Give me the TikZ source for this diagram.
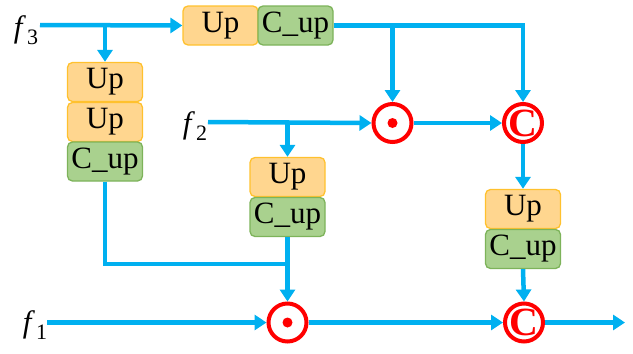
\documentclass[tikz,border=0pt]{standalone}
\usepackage{fontspec}
\setmainfont{Liberation Serif}
\usetikzlibrary{arrows.meta}

\definecolor{flowblue}{HTML}{00B0F0}
\definecolor{upfill}{HTML}{FFD68F}
\definecolor{upedge}{HTML}{FFC12E}
\definecolor{cupfill}{HTML}{A9D18E}
\definecolor{cupedge}{HTML}{7DB35A}
\definecolor{opred}{HTML}{FF0000}

\tikzset{
  box/.style={draw, line width=1.3pt, rounded corners=5pt, minimum width=75pt,
    minimum height=39pt, inner sep=0pt, font=\fontsize{31}{31}\selectfont},
  upbox/.style={box, fill=upfill, draw=upedge},
  cupbox/.style={box, fill=cupfill, draw=cupedge},
  opcirc/.style={circle, draw=opred, line width=4pt, minimum size=38pt, inner sep=0pt},
  flow/.style={draw=flowblue, line width=4.5pt},
  arrflow/.style={flow, -{Triangle[width=15pt,length=12pt]}},
  flabel/.style={inner sep=0pt, font=\fontsize{31}{31}\selectfont},
  ctext/.style={text=opred, font=\fontsize{40}{40}\selectfont\bfseries},
}
\newcommand{\flab}[1]{\textit{f}\kern1pt\raisebox{-7pt}{\fontsize{22}{22}\selectfont #1}}

\begin{document}
\begin{tikzpicture}[x=1pt, y=-1pt]
  \useasboundingbox (0,0) rectangle (633,354);

  % input labels
  \node[flabel] (f3) at (26,30) {\flab{3}};
  \node[flabel] (f2) at (195,126) {\flab{2}};
  \node[flabel] (f1) at (35,325) {\flab{1}};
  \coordinate (s3) at (40,25);
  \coordinate (s2) at (208,122);
  \coordinate (s1) at (47,322.5);
  \coordinate (out) at (625,322.5);

  % top branch
  \node[upbox]  (upT)  at (220.5,25.5) {Up};
  \node[cupbox] (cupT) at (295.5,25.5) {C\_up};

  % left stack
  \node[upbox]  (upL1) at (105,82) {Up};
  \node[upbox]  (upL2) at (105,122) {Up};
  \node[cupbox] (cupL) at (105,161.5) {C\_up};

  % middle stack
  \node[upbox]  (upM)  at (287.5,177) {Up};
  \node[cupbox] (cupM) at (287.5,217) {C\_up};

  % right stack
  \node[upbox]  (upR)  at (523,209) {Up};
  \node[cupbox] (cupR) at (523,249) {C\_up};

  % fusion operators
  \node[opcirc] (mulU) at (392.5,123) {};
  \fill[opred] (mulU.center) circle (5pt);
  \node[opcirc] (catU) at (523,123) {};
  \node[ctext] at (catU.center) {C};

  \node[opcirc] (mulD) at (287.5,322.5) {};
  \fill[opred] (mulD.center) circle (5pt);
  \node[opcirc] (catD) at (524,322.5) {};
  \node[ctext] at (catD.center) {C};

  % connectors
  \draw[arrflow] (s3) -- (upT.west);
  \draw[arrflow] (upL1.north |- s3) -- (upL1.north);
  \draw[arrflow] (cupT.east) -| (catU.north);
  \draw[arrflow] (cupT.east -| mulU.north) -- (mulU.north);

  \draw[arrflow] (s2) -- (mulU.west);
  \draw[arrflow] (upM.north |- s2) -- (upM.north);
  \draw[arrflow] (mulU.east) -- (catU.west);
  \draw[arrflow] (catU.south) -- (upR.north);

  \draw[flow] (cupL.south) |- (287.5,264);
  \draw[arrflow] (cupM.south) -- (mulD.north);
  \draw[arrflow] (cupR.south) -- (catD.north);

  \draw[arrflow] (s1) -- (mulD.west);
  \draw[arrflow] (mulD.east) -- (catD.west);
  \draw[arrflow] (catD.east) -- (out);
\end{tikzpicture}
\end{document}
